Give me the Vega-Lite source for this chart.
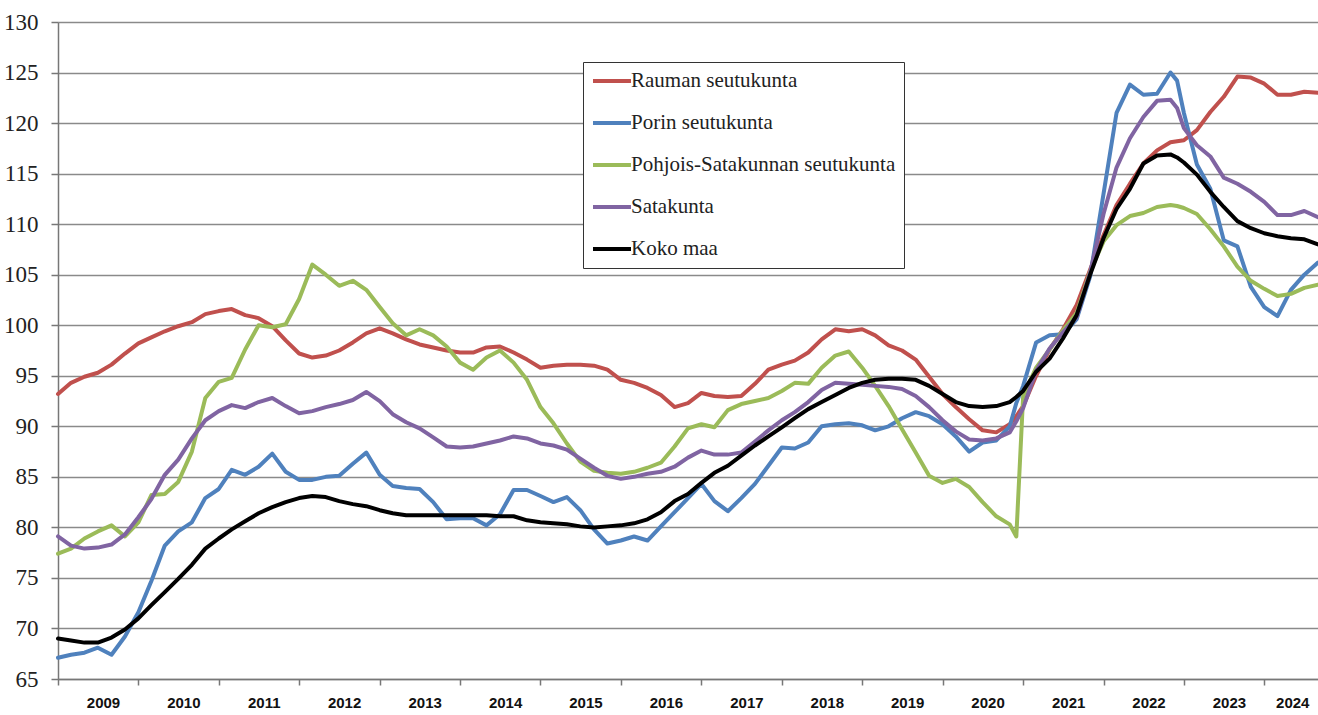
{
 "$schema": "https://vega.github.io/schema/vega-lite/v6.json",
 "width": 1260, "height": 657,
 "autosize": {"type": "none"},
 "padding": {"left": 58, "top": 22, "right": 0, "bottom": 36},
 "background": "white",
 "config": {"view": {"stroke": null}, "font": "Liberation Sans Narrow"},
 "data": {"values": [
{"d":"2009-01-01","R":93.2,"P":67.1,"N":77.4,"S":79.1,"K":69.0},
{"d":"2009-03-01","R":94.3,"P":67.4,"N":77.9,"S":78.2,"K":68.8},
{"d":"2009-05-01","R":94.9,"P":67.6,"N":78.9,"S":77.9,"K":68.6},
{"d":"2009-07-01","R":95.3,"P":68.1,"N":79.6,"S":78.0,"K":68.6},
{"d":"2009-09-01","R":96.1,"P":67.4,"N":80.2,"S":78.3,"K":69.1},
{"d":"2009-11-01","R":97.2,"P":69.2,"N":79.1,"S":79.3,"K":69.9},
{"d":"2010-01-01","R":98.2,"P":71.6,"N":80.5,"S":81.0,"K":71.0},
{"d":"2010-03-01","R":98.8,"P":74.7,"N":83.2,"S":82.8,"K":72.3},
{"d":"2010-05-01","R":99.4,"P":78.2,"N":83.3,"S":85.2,"K":73.6},
{"d":"2010-07-01","R":99.9,"P":79.6,"N":84.5,"S":86.7,"K":74.9},
{"d":"2010-09-01","R":100.3,"P":80.5,"N":87.5,"S":88.8,"K":76.3},
{"d":"2010-11-01","R":101.1,"P":82.9,"N":92.8,"S":90.6,"K":77.9},
{"d":"2011-01-01","R":101.4,"P":83.8,"N":94.4,"S":91.5,"K":78.9},
{"d":"2011-03-01","R":101.6,"P":85.7,"N":94.8,"S":92.1,"K":79.8},
{"d":"2011-05-01","R":101.0,"P":85.2,"N":97.6,"S":91.8,"K":80.6},
{"d":"2011-07-01","R":100.7,"P":86.0,"N":100.0,"S":92.4,"K":81.4},
{"d":"2011-09-01","R":99.9,"P":87.3,"N":99.8,"S":92.8,"K":82.0},
{"d":"2011-11-01","R":98.5,"P":85.5,"N":100.1,"S":92.0,"K":82.5},
{"d":"2012-01-01","R":97.2,"P":84.7,"N":102.6,"S":91.3,"K":82.9},
{"d":"2012-03-01","R":96.8,"P":84.7,"N":106.0,"S":91.5,"K":83.1},
{"d":"2012-05-01","R":97.0,"P":85.0,"N":105.0,"S":91.9,"K":83.0},
{"d":"2012-07-01","R":97.5,"P":85.1,"N":103.9,"S":92.2,"K":82.6},
{"d":"2012-09-01","R":98.3,"P":86.3,"N":104.4,"S":92.6,"K":82.3},
{"d":"2012-11-01","R":99.2,"P":87.4,"N":103.5,"S":93.4,"K":82.1},
{"d":"2013-01-01","R":99.7,"P":85.2,"N":101.8,"S":92.5,"K":81.7},
{"d":"2013-03-01","R":99.2,"P":84.1,"N":100.2,"S":91.2,"K":81.4},
{"d":"2013-05-01","R":98.6,"P":83.9,"N":99.0,"S":90.4,"K":81.2},
{"d":"2013-07-01","R":98.1,"P":83.8,"N":99.6,"S":89.8,"K":81.2},
{"d":"2013-09-01","R":97.8,"P":82.5,"N":99.0,"S":88.9,"K":81.2},
{"d":"2013-11-01","R":97.5,"P":80.8,"N":97.9,"S":88.0,"K":81.2},
{"d":"2014-01-01","R":97.3,"P":80.9,"N":96.3,"S":87.9,"K":81.2},
{"d":"2014-03-01","R":97.3,"P":80.9,"N":95.6,"S":88.0,"K":81.2},
{"d":"2014-05-01","R":97.8,"P":80.2,"N":96.8,"S":88.3,"K":81.2},
{"d":"2014-07-01","R":97.9,"P":81.3,"N":97.5,"S":88.6,"K":81.1},
{"d":"2014-09-01","R":97.3,"P":83.7,"N":96.3,"S":89.0,"K":81.1},
{"d":"2014-11-01","R":96.6,"P":83.7,"N":94.6,"S":88.8,"K":80.7},
{"d":"2015-01-01","R":95.8,"P":83.1,"N":91.9,"S":88.3,"K":80.5},
{"d":"2015-03-01","R":96.0,"P":82.5,"N":90.3,"S":88.1,"K":80.4},
{"d":"2015-05-01","R":96.1,"P":83.0,"N":88.3,"S":87.7,"K":80.3},
{"d":"2015-07-01","R":96.1,"P":81.7,"N":86.5,"S":86.8,"K":80.1},
{"d":"2015-09-01","R":96.0,"P":79.8,"N":85.6,"S":85.9,"K":80.0},
{"d":"2015-11-01","R":95.6,"P":78.4,"N":85.4,"S":85.1,"K":80.1},
{"d":"2016-01-01","R":94.6,"P":78.7,"N":85.3,"S":84.8,"K":80.2},
{"d":"2016-03-01","R":94.3,"P":79.1,"N":85.5,"S":85.0,"K":80.4},
{"d":"2016-05-01","R":93.8,"P":78.7,"N":85.9,"S":85.3,"K":80.8},
{"d":"2016-07-01","R":93.1,"P":80.1,"N":86.4,"S":85.5,"K":81.5},
{"d":"2016-09-01","R":91.9,"P":81.5,"N":88.0,"S":86.0,"K":82.6},
{"d":"2016-11-01","R":92.3,"P":82.9,"N":89.8,"S":86.9,"K":83.3},
{"d":"2017-01-01","R":93.3,"P":84.3,"N":90.2,"S":87.6,"K":84.4},
{"d":"2017-03-01","R":93.0,"P":82.6,"N":89.9,"S":87.2,"K":85.4},
{"d":"2017-05-01","R":92.9,"P":81.6,"N":91.6,"S":87.2,"K":86.1},
{"d":"2017-07-01","R":93.0,"P":82.9,"N":92.2,"S":87.4,"K":87.1},
{"d":"2017-09-01","R":94.2,"P":84.3,"N":92.5,"S":88.5,"K":88.1},
{"d":"2017-11-01","R":95.6,"P":86.1,"N":92.8,"S":89.6,"K":89.0},
{"d":"2018-01-01","R":96.1,"P":87.9,"N":93.5,"S":90.6,"K":89.9},
{"d":"2018-03-01","R":96.5,"P":87.8,"N":94.3,"S":91.4,"K":90.8},
{"d":"2018-05-01","R":97.3,"P":88.4,"N":94.2,"S":92.4,"K":91.7},
{"d":"2018-07-01","R":98.6,"P":90.0,"N":95.8,"S":93.6,"K":92.4},
{"d":"2018-09-01","R":99.6,"P":90.2,"N":97.0,"S":94.3,"K":93.1},
{"d":"2018-11-01","R":99.4,"P":90.3,"N":97.4,"S":94.2,"K":93.8},
{"d":"2019-01-01","R":99.6,"P":90.1,"N":95.8,"S":94.1,"K":94.3},
{"d":"2019-03-01","R":99.0,"P":89.6,"N":94.0,"S":94.0,"K":94.6},
{"d":"2019-05-01","R":98.0,"P":90.0,"N":92.0,"S":93.9,"K":94.7},
{"d":"2019-07-01","R":97.5,"P":90.8,"N":89.7,"S":93.7,"K":94.7},
{"d":"2019-09-01","R":96.6,"P":91.4,"N":87.4,"S":93.0,"K":94.6},
{"d":"2019-11-01","R":94.9,"P":91.0,"N":85.1,"S":91.9,"K":94.0},
{"d":"2020-01-01","R":93.2,"P":90.2,"N":84.4,"S":90.6,"K":93.2},
{"d":"2020-03-01","R":91.9,"P":89.0,"N":84.8,"S":89.5,"K":92.4},
{"d":"2020-05-01","R":90.7,"P":87.5,"N":84.0,"S":88.7,"K":92.0},
{"d":"2020-07-01","R":89.6,"P":88.4,"N":82.5,"S":88.6,"K":91.9},
{"d":"2020-09-01","R":89.4,"P":88.6,"N":81.1,"S":88.8,"K":92.0},
{"d":"2020-11-01","R":90.2,"P":90.0,"N":80.3,"S":89.4,"K":92.4},
{"d":"2020-12-01","R":91.0,"P":92.3,"N":79.1,"S":90.5,"K":92.9},
{"d":"2021-01-01","R":92.0,"P":94.0,"N":93.0,"S":91.8,"K":93.5},
{"d":"2021-03-01","R":95.0,"P":98.3,"N":95.8,"S":95.5,"K":95.4},
{"d":"2021-05-01","R":97.6,"P":99.0,"N":97.6,"S":97.7,"K":96.7},
{"d":"2021-07-01","R":99.6,"P":99.1,"N":99.5,"S":99.3,"K":98.7},
{"d":"2021-09-01","R":102.0,"P":100.6,"N":101.2,"S":100.8,"K":101.0},
{"d":"2021-11-01","R":105.5,"P":104.8,"N":105.3,"S":105.2,"K":105.0},
{"d":"2022-01-01","R":108.9,"P":113.0,"N":108.3,"S":111.0,"K":108.6},
{"d":"2022-03-01","R":111.9,"P":121.0,"N":109.9,"S":115.6,"K":111.5},
{"d":"2022-05-01","R":114.0,"P":123.8,"N":110.8,"S":118.5,"K":113.5},
{"d":"2022-07-01","R":116.0,"P":122.8,"N":111.1,"S":120.6,"K":116.0},
{"d":"2022-09-01","R":117.3,"P":122.9,"N":111.7,"S":122.2,"K":116.8},
{"d":"2022-11-01","R":118.1,"P":125.0,"N":111.9,"S":122.3,"K":116.9},
{"d":"2022-12-01","R":118.2,"P":124.2,"N":111.8,"S":121.5,"K":116.6},
{"d":"2023-01-01","R":118.3,"P":121.0,"N":111.6,"S":119.5,"K":116.1},
{"d":"2023-03-01","R":119.3,"P":115.9,"N":111.0,"S":117.8,"K":114.9},
{"d":"2023-05-01","R":121.1,"P":113.5,"N":109.5,"S":116.7,"K":113.2},
{"d":"2023-07-01","R":122.6,"P":108.4,"N":107.8,"S":114.6,"K":111.7},
{"d":"2023-09-01","R":124.6,"P":107.8,"N":105.8,"S":114.0,"K":110.3},
{"d":"2023-11-01","R":124.5,"P":103.8,"N":104.4,"S":113.2,"K":109.6},
{"d":"2024-01-01","R":123.9,"P":101.8,"N":103.6,"S":112.2,"K":109.1},
{"d":"2024-03-01","R":122.8,"P":100.9,"N":102.9,"S":110.9,"K":108.8},
{"d":"2024-05-01","R":122.8,"P":103.5,"N":103.1,"S":110.9,"K":108.6},
{"d":"2024-07-01","R":123.1,"P":105.0,"N":103.7,"S":111.3,"K":108.5},
{"d":"2024-09-01","R":123.0,"P":106.2,"N":104.0,"S":110.7,"K":108.0}
 ]},
 "transform": [{"fold": ["R", "P", "N", "S", "K"], "as": ["s", "v"]}],
 "mark": {"type": "line", "strokeWidth": 4, "strokeJoin": "round", "strokeCap": "round"},
 "encoding": {
  "x": {"field": "d", "type": "temporal",
   "scale": {"domain": ["2009-01-01", "2024-09-01"]},
   "axis": {"title": null, "grid": false, "tickCount": {"interval": "year", "step": 1}, "format": "%Y",
    "labelFont": "'Liberation Sans Narrow', 'Liberation Sans', Arial, sans-serif", "labelFontWeight": "bold", "labelFontSize": 15, "labelColor": "#111",
    "labelAlign": "center", "labelBaseline": "top", "labelPadding": 10,
    "labelOffset": {"condition": {"test": "year(datum.value) === 2024", "value": 28}, "value": 45},
    "labelBound": false, "labelOverlap": false, "labelFlush": false,
    "tickSize": 6, "tickColor": "#777", "tickWidth": 1.5, "domainColor": "#777", "domainWidth": 1.5}},
  "y": {"field": "v", "type": "quantitative",
   "scale": {"domain": [65, 130], "nice": false, "zero": false},
   "axis": {"title": null, "values": [65, 70, 75, 80, 85, 90, 95, 100, 105, 110, 115, 120, 125, 130],
    "grid": true, "gridColor": "#8a8a8a", "gridWidth": 1.5,
    "domainColor": "#777", "domainWidth": 1.5, "tickSize": 7, "tickColor": "#777", "tickWidth": 1.5,
    "labelFont": "Liberation Sans Narrow", "labelFontSize": 23, "labelColor": "#222", "labelPadding": 13}},
  "color": {"field": "s", "type": "nominal",
   "scale": {"domain": ["R", "P", "N", "S", "K"], "range": ["#C0504D", "#4F81BD", "#9BBB59", "#8064A2", "#000000"]},
   "legend": {"title": null, "orient": "none", "legendX": 525, "legendY": 40, "direction": "vertical",
    "symbolType": "stroke", "symbolSize": 1444, "symbolStrokeWidth": 4, "clipHeight": 22,
    "rowPadding": 20, "padding": 8, "labelOffset": -2, "labelLimit": 500,
    "labelFont": "Liberation Sans Narrow", "labelFontSize": 21, "labelColor": "#222",
    "strokeColor": "#333", "fillColor": "white",
    "labelExpr": "{'R':'Rauman seutukunta','P':'Porin seutukunta','N':'Pohjois-Satakunnan seutukunta','S':'Satakunta','K':'Koko maa'}[datum.label]"}}
 }
}
